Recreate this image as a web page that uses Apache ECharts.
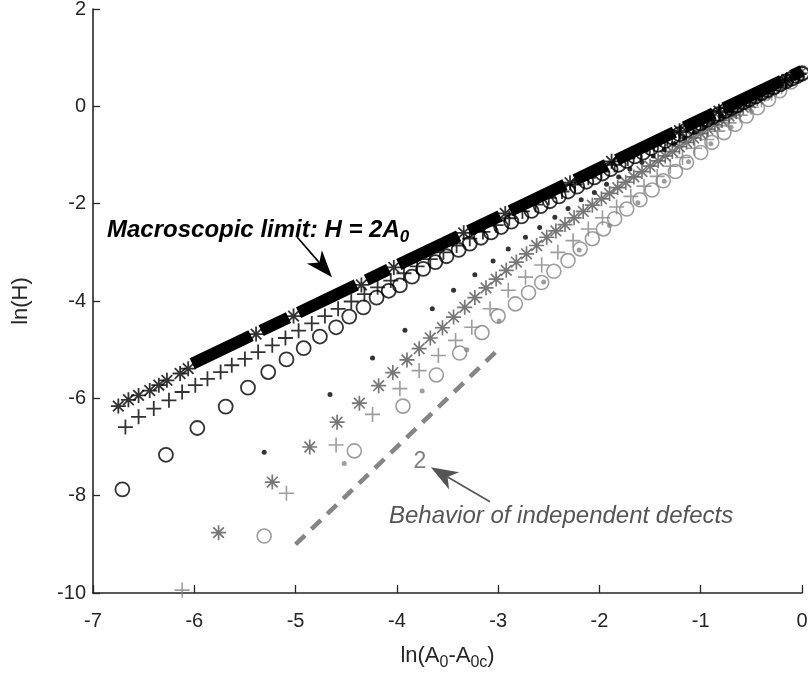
<!DOCTYPE html>
<html><head><meta charset="utf-8">
<script src="https://cdn.jsdelivr.net/npm/echarts@6/dist/echarts.min.js"></script>
<style>html,body{margin:0;padding:0;background:#fff}#c{width:808px;height:688px}</style>
</head><body><div id="c"></div>
<script>
// ---------------- data ----------------
const xRange = [-7, 0];
const yRange = [-10, 2];

// black asterisks (sparse ones, visible outside the dense band)
const blackStar = [[-6.75,-6.16],[-6.65,-6.03],[-6.55,-5.94],[-6.44,-5.84],[-6.35,-5.73],[-6.27,-5.63],[-6.14,-5.49],[-6.06,-5.39],
  [-5.39,-4.68],[-5.02,-4.31],[-4.35,-3.67],[-4.03,-3.31],[-3.34,-2.60],[-2.93,-2.20],[-2.29,-1.57],[-1.88,-1.13],[-1.21,-0.50],[-0.82,-0.10],[-0.15,0.55]];

// dense overlapping black markers forming the "macroscopic limit" band (segment ends; null = gap)
const blackBand = [[-6.02,-5.29],[-5.44,-4.71],[-5.39,null],[-5.34,-4.61],[-5.07,-4.34],[-5.02,null],[-4.97,-4.24],[-4.40,-3.67],[-4.35,null],
  [-4.30,-3.57],[-4.08,-3.35],[-4.03,null],[-3.98,-3.25],[-3.39,-2.66],[-3.34,null],[-3.29,-2.56],[-2.98,-2.25],[-2.93,null],
  [-2.88,-2.15],[-2.34,-1.61],[-2.29,null],[-2.24,-1.51],[-1.93,-1.20],[-1.88,null],[-1.83,-1.10],[-1.26,-0.53],[-1.21,null],
  [-1.16,-0.43],[-0.87,-0.14],[-0.82,null],[-0.77,-0.04],[-0.20,0.53],[-0.15,null],[-0.10,0.63],[0.0,0.73]];

const blackPlus = [[-6.68,-6.59],[-6.55,-6.38],[-6.40,-6.21],[-6.25,-6.04],[-6.12,-5.87],[-5.99,-5.73],[-5.87,-5.60],[-5.74,-5.46],[-5.63,-5.32],
  [-5.50,-5.19],[-5.37,-5.05],[-5.23,-4.91],[-5.10,-4.76],[-4.97,-4.61],[-4.84,-4.46],[-4.71,-4.31],[-4.58,-4.16],[-4.45,-4.01],[-4.32,-3.86],
  [-4.19,-3.72],[-4.06,-3.58],[-3.93,-3.43],[-3.80,-3.29],[-3.67,-3.14],[-3.54,-3.00],[-3.41,-2.86],[-3.28,-2.72],[-3.15,-2.58],[-3.02,-2.44],
  [-2.89,-2.30],[-2.76,-2.16],[-2.63,-2.02],[-2.50,-1.88],[-2.37,-1.75],[-2.24,-1.61],[-2.11,-1.47],[-1.98,-1.34],[-1.85,-1.20],[-1.72,-1.07],
  [-1.59,-0.93],[-1.46,-0.80],[-1.33,-0.66],[-1.20,-0.53],[-1.07,-0.39],[-0.94,-0.26],[-0.81,-0.13],[-0.68,0.00],[-0.55,0.14],[-0.42,0.27],
  [-0.29,0.40],[-0.16,0.53],[-0.03,0.66]];

const blackCircle = [[-6.71,-7.87],[-6.28,-7.16],[-5.97,-6.61],[-5.69,-6.17],[-5.47,-5.78],[-5.27,-5.46],[-5.09,-5.20],[-4.92,-4.97],[-4.76,-4.73],
  [-4.60,-4.54],[-4.47,-4.32],[-4.33,-4.13],[-4.20,-3.93],[-4.08,-3.79],[-3.97,-3.68],[-3.85,-3.50],[-3.74,-3.34],[-3.62,-3.20],[-3.51,-3.08],
  [-3.39,-2.95],[-3.28,-2.82],[-3.17,-2.70],[-3.07,-2.59],[-2.97,-2.48],[-2.87,-2.37],[-2.77,-2.26],[-2.67,-2.15],[-2.58,-2.05],[-2.49,-1.95],
  [-2.40,-1.85],[-2.31,-1.75],[-2.22,-1.65],[-2.13,-1.55],[-2.05,-1.46],[-1.97,-1.38],[-1.89,-1.29],[-1.81,-1.20],[-1.73,-1.12],[-1.65,-1.03],
  [-1.57,-0.95],[-1.49,-0.86],[-1.42,-0.79],[-1.35,-0.71],[-1.28,-0.64],[-1.21,-0.57],[-1.14,-0.49],[-1.07,-0.42],[-1.00,-0.35],[-0.94,-0.28],
  [-0.88,-0.22],[-0.82,-0.16],[-0.76,-0.10],[-0.70,-0.04],[-0.64,0.02],[-0.58,0.08],[-0.52,0.14],[-0.46,0.20],[-0.40,0.27],[-0.34,0.33],
  [-0.28,0.39],[-0.22,0.45],[-0.16,0.51],[-0.10,0.57],[-0.05,0.62],[0.00,0.67]];

const blackDot = [[-5.31,-7.11],[-4.66,-5.92],[-4.24,-5.17],[-3.92,-4.60],[-3.65,-4.16],[-3.44,-3.78],[-3.23,-3.46],[-3.05,-3.18],[-2.90,-2.93],
  [-2.73,-2.69],[-2.59,-2.49],[-2.44,-2.28],[-2.31,-2.10],[-2.18,-1.92],[-2.05,-1.77],[-1.93,-1.60],[-1.81,-1.45],[-1.70,-1.29],[-1.58,-1.15],
  [-1.47,-1.02],[-1.36,-0.89],[-1.26,-0.77],[-1.16,-0.65],[-1.06,-0.53],[-0.97,-0.42],[-0.88,-0.31],[-0.79,-0.20],[-0.70,-0.10],[-0.62,0.00],
  [-0.54,0.10],[-0.46,0.19],[-0.38,0.28],[-0.31,0.36],[-0.24,0.44],[-0.17,0.52],[-0.10,0.60],[-0.03,0.67]];

const grayStar = [[-5.76,-8.76],[-5.23,-7.72],[-4.86,-7.00],[-4.59,-6.49],[-4.37,-6.10],[-4.18,-5.74],[-4.04,-5.47],[-3.90,-5.21],[-3.78,-4.98],
  [-3.67,-4.76],[-3.55,-4.55],[-3.44,-4.33],[-3.33,-4.13],[-3.23,-3.93],[-3.12,-3.73],[-3.02,-3.55],[-2.92,-3.37],[-2.82,-3.20],[-2.72,-3.03],
  [-2.62,-2.86],[-2.52,-2.69],[-2.43,-2.56],[-2.34,-2.43],[-2.25,-2.29],[-2.16,-2.16],[-2.07,-2.03],[-1.98,-1.90],[-1.90,-1.79],[-1.82,-1.67],
  [-1.74,-1.56],[-1.66,-1.45],[-1.58,-1.34],[-1.50,-1.23],[-1.42,-1.12],[-1.35,-1.02],[-1.28,-0.93],[-1.21,-0.83],[-1.14,-0.74],[-1.07,-0.65],
  [-1.00,-0.56],[-0.93,-0.47],[-0.86,-0.38],[-0.79,-0.29],[-0.72,-0.20],[-0.65,-0.11],[-0.58,-0.02],[-0.51,0.07],[-0.44,0.16],[-0.37,0.25],
  [-0.30,0.33],[-0.23,0.42],[-0.16,0.50],[-0.09,0.58],[-0.02,0.67]];

const grayPlus = [[-6.12,-9.94],[-5.09,-7.95],[-4.60,-6.96],[-4.24,-6.33],[-3.97,-5.80],[-3.78,-5.43],[-3.59,-5.12],[-3.42,-4.81],[-3.26,-4.54],
  [-3.08,-4.16],[-2.90,-3.78],[-2.73,-3.51],[-2.57,-3.26],[-2.41,-3.00],[-2.26,-2.76],[-2.11,-2.52],[-1.97,-2.29],[-1.83,-2.07],[-1.69,-1.85],
  [-1.56,-1.64],[-1.43,-1.44],[-1.30,-1.23],[-1.18,-1.05],[-1.06,-0.86],[-0.94,-0.68],[-0.83,-0.51],[-0.72,-0.34],[-0.61,-0.18],[-0.50,-0.02],
  [-0.40,0.13],[-0.30,0.27],[-0.20,0.41],[-0.10,0.55],[0.00,0.69]];

const grayCircle = [[-5.31,-8.83],[-4.42,-7.08],[-3.94,-6.16],[-3.61,-5.52],[-3.38,-5.07],[-3.16,-4.65],[-3.00,-4.31],[-2.83,-4.06],[-2.70,-3.83],
  [-2.57,-3.62],[-2.45,-3.39],[-2.31,-3.17],[-2.19,-2.93],[-2.07,-2.72],[-1.96,-2.52],[-1.85,-2.31],[-1.73,-2.11],[-1.60,-1.92],[-1.48,-1.72],
  [-1.37,-1.53],[-1.25,-1.34],[-1.14,-1.15],[-1.00,-0.95],[-0.89,-0.74],[-0.77,-0.54],[-0.66,-0.37],[-0.55,-0.20],[-0.44,-0.03],[-0.33,0.14],
  [-0.22,0.32],[-0.11,0.50],[0.00,0.69]];

const grayDot = [[-4.52,-7.34],[-3.75,-5.85],[-3.31,-5.00],[-2.99,-4.41],[-2.55,-3.61],[-2.20,-2.95],[-1.90,-2.45],[-1.62,-1.98],[-1.36,-1.54],
  [-1.12,-1.14],[-0.90,-0.77],[-0.70,-0.43],[-0.50,-0.10],[-0.32,0.20],[-0.15,0.46],[0.00,0.69]];

// slope-2 reference line ("behavior of independent defects")
const slopeTwoLine = [[-5.0,-9.0],[-3.0,-5.0]];

// annotation arrows (data coordinates: [from, to])
const arrowMacro = [[-4.985,-2.685],[-4.64,-3.513]];
const arrowIndep = [[-3.08,-8.124],[-3.665,-7.417]];

// ---------------- chart ----------------
const FONT = '"Liberation Sans", Arial, Helvetica, sans-serif';
const AXIS = '#262626';
const STAR = 'path://M5,0L5,10M0,5L10,5M1.46,1.46L8.54,8.54M1.46,8.54L8.54,1.46';
const PLUS = 'path://M5,0L5,10M0,5L10,5';

function marks(name, data, symbol, size, color, filled, lw) {
  return {
    name, type: 'scatter', data, symbol, symbolSize: size, clip: false,
    itemStyle: filled ? { color: color } : { color: 'rgba(0,0,0,0)', borderColor: color, borderWidth: lw || 1.5 },
    emphasis: { disabled: true }, silent: true
  };
}

const chart = echarts.init(document.getElementById('c'), null, { renderer: 'canvas' });

chart.setOption({
  animation: false,
  backgroundColor: '#fff',
  grid: { left: 93, right: 6, top: 9, bottom: 95, containLabel: false, outerBoundsMode: 'none' },
  xAxis: {
    type: 'value', min: xRange[0], max: xRange[1], interval: 1,
    name: '{n|ln(A}{s|0}{n|-A}{s|0c}{n|)}', nameLocation: 'middle', nameGap: 48,
    nameTextStyle: {
      rich: {
        n: { fontSize: 22, fontFamily: FONT, color: AXIS, lineHeight: 26, verticalAlign: 'top' },
        s: { fontSize: 16, fontFamily: FONT, color: AXIS, lineHeight: 17, padding: [19, 0, 0, 0], verticalAlign: 'bottom' }
      }
    },
    axisLine: { onZero: false, lineStyle: { color: AXIS, width: 1.6 } },
    axisTick: { inside: true, length: 8, lineStyle: { color: AXIS, width: 1.3 } },
    axisLabel: { fontSize: 20, color: AXIS, fontFamily: FONT, margin: 18 },
    splitLine: { show: false }
  },
  yAxis: {
    type: 'value', min: yRange[0], max: yRange[1], interval: 2,
    name: 'ln(H)', nameLocation: 'middle', nameGap: 61, nameRotate: 90,
    nameTextStyle: { fontSize: 22, fontFamily: FONT, color: AXIS },
    axisLine: { onZero: false, lineStyle: { color: AXIS, width: 1.6 } },
    axisTick: { inside: true, length: 7, lineStyle: { color: AXIS, width: 1.3 } },
    axisLabel: { fontSize: 20, color: AXIS, fontFamily: FONT, margin: 7 },
    splitLine: { show: false }
  },
  series: [
    { name: 'slope2', type: 'line', data: slopeTwoLine, symbol: 'none', silent: true,
      lineStyle: { color: '#858585', width: 4.5, type: [13, 9] } },
    marks('grayCircle', grayCircle, 'circle', 14, '#858585', false, 1.6),
    marks('grayPlus', grayPlus, PLUS, 15, '#858585', false, 1.6),
    marks('grayDot', grayDot, 'circle', 5, '#858585', true),
    marks('grayStar', grayStar, STAR, 15, '#555555', false, 1.7),
    marks('blackDot', blackDot, 'circle', 5, '#000000', true),
    marks('blackCircle', blackCircle, 'circle', 14, '#000000', false, 1.8),
    marks('blackPlus', blackPlus, PLUS, 15, '#000000', false, 1.8),
    marks('blackStar', blackStar, STAR, 15, '#000000', false, 1.8),
    { name: 'band', type: 'line', data: blackBand, symbol: 'none', connectNulls: false, silent: true,
      lineStyle: { color: '#000', width: 12, cap: 'butt' } }
  ]
});

function arrow(seg, color, L, W, lw) {
  const p0 = chart.convertToPixel({ gridIndex: 0 }, seg[0]);
  const p1 = chart.convertToPixel({ gridIndex: 0 }, seg[1]);
  const dx = p1[0] - p0[0], dy = p1[1] - p0[1], len = Math.hypot(dx, dy);
  const ux = dx / len, uy = dy / len, nx = -uy, ny = ux;
  const bx = p1[0] - ux * L, by = p1[1] - uy * L;
  const kx = p1[0] - ux * L * 0.72, ky = p1[1] - uy * L * 0.72;
  return [
    { type: 'line', silent: true, shape: { x1: p0[0], y1: p0[1], x2: kx, y2: ky }, style: { stroke: color, lineWidth: lw } },
    { type: 'polygon', silent: true, shape: { points: [[p1[0], p1[1]], [bx + nx * W / 2, by + ny * W / 2], [kx, ky], [bx - nx * W / 2, by - ny * W / 2]] },
      style: { fill: color } }
  ];
}

const graphics = [].concat(
  arrow(arrowMacro, '#000', 27, 20, 1.6),
  arrow(arrowIndep, '#555', 27, 20, 1.6),
  [
    { type: 'text', left: 107, top: 209, silent: true,
      style: {
        text: '{n|Macroscopic limit: H = 2A}{s|0}',
        rich: {
          n: { fontSize: 24, fontFamily: FONT, fontStyle: 'italic', fontWeight: 'bold', fill: '#000', lineHeight: 28, verticalAlign: 'top' },
          s: { fontSize: 17, fontFamily: FONT, fontStyle: 'italic', fontWeight: 'bold', fill: '#000', lineHeight: 18, padding: [20, 0, 0, 0], verticalAlign: 'bottom' }
        }
      } },
    { type: 'text', silent: true,
      style: { text: '2', x: 420, y: 461.5, align: 'center', verticalAlign: 'middle', fontSize: 23, fontFamily: FONT, fill: '#808080' } },
    { type: 'text', silent: true,
      style: { text: 'Behavior of independent defects', x: 389, y: 516, align: 'left', verticalAlign: 'middle',
        fontSize: 24, fontFamily: FONT, fontStyle: 'italic', fill: '#555555' } }
  ]
);
chart.setOption({ graphic: graphics });
</script>
</body></html>
